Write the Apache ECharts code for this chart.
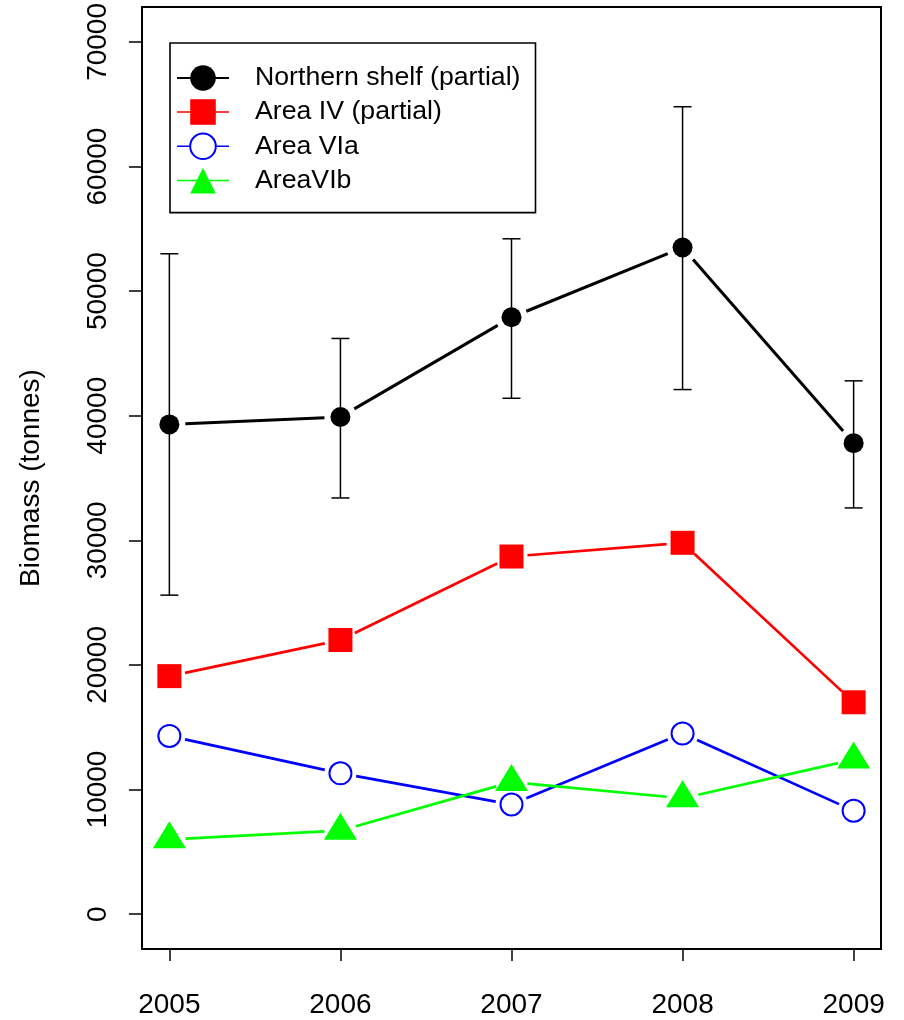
<!DOCTYPE html>
<html>
<head>
<meta charset="utf-8">
<script src="https://cdn.jsdelivr.net/npm/echarts@6/dist/echarts.min.js"></script>
<style>
  html, body { margin: 0; padding: 0; background: #fff; }
  #chart { width: 904px; height: 1020px; }
</style>
</head>
<body>
<div id="chart"></div>
<script>
const years = [2005, 2006, 2007, 2008, 2009];
const yTicks = [0, 10000, 20000, 30000, 40000, 50000, 60000, 70000];

const northern = [39300, 39900, 47900, 53500, 37800];
const northernLow = [25600, 33400, 41400, 42100, 32600];
const northernHigh = [53000, 46200, 54200, 64800, 42800];
const areaIV = [19100, 22000, 28700, 29800, 17000];
const areaVIa = [14300, 11300, 8800, 14500, 8300];
const areaVIb = [6000, 6700, 10600, 9300, 12400];

const names = ["Northern shelf (partial)", "Area IV (partial)", "Area VIa", "AreaVIb"];

const FONT = '"Liberation Sans", Arial, sans-serif';
const GAP = 16; // R type="b" leaves a gap round each point

// line pieces between neighbouring points, cut short near the markers
function segments(vals) {
  return years.slice(1).map((y, i) => [years[i], vals[i], y, vals[i + 1]]);
}

function segmentSeries(vals, color, width) {
  return {
    type: "custom",
    silent: true,
    data: segments(vals),
    encode: { x: [0, 2], y: [1, 3] },
    renderItem: (params, api) => {
      const a = api.coord([api.value(0), api.value(1)]);
      const b = api.coord([api.value(2), api.value(3)]);
      const dx = b[0] - a[0], dy = b[1] - a[1];
      const len = Math.hypot(dx, dy);
      const ux = dx / len, uy = dy / len;
      return {
        type: "line",
        shape: { x1: a[0] + ux * GAP, y1: a[1] + uy * GAP, x2: b[0] - ux * GAP, y2: b[1] - uy * GAP },
        style: { stroke: color, lineWidth: width }
      };
    }
  };
}

function markerSeries(name, vals, color, symbol, size, extra) {
  return Object.assign({
    name: name,
    type: "line",
    silent: true,
    data: years.map((y, i) => [y, vals[i]]),
    symbol: symbol,
    symbolSize: size,
    showAllSymbol: true,
    lineStyle: { color: color, opacity: 0 },
    itemStyle: { color: color, opacity: 1 },
    z: 5
  }, extra || {});
}

const errorData = years.map((y, i) => [y, northernLow[i], northernHigh[i]]);

const chart = echarts.init(document.getElementById("chart"));
chart.setOption({
  animation: false,
  textStyle: { fontFamily: FONT },
  grid: {
    left: 142, right: 23, top: 7, bottom: 71,
    show: true, borderColor: "#000", borderWidth: 2, backgroundColor: "transparent"
  },
  legend: {
    orient: "vertical",
    left: 170, top: 43,
    padding: [21.5, 15, 18.5, 6],
    itemWidth: 52, itemHeight: 32, itemGap: 7,
    borderColor: "#000", borderWidth: 1.6,
    selectedMode: false,
    textStyle: { fontSize: 26.7, color: "#000", fontFamily: FONT, padding: [0, 0, 0, 21] },
    data: [
      { name: names[0], lineStyle: { opacity: 1, width: 2, color: "#000" } },
      { name: names[1], lineStyle: { opacity: 1, width: 1.5, color: "#ff0000" } },
      { name: names[2], lineStyle: { opacity: 1, width: 1.5, color: "#0000ff" } },
      { name: names[3], lineStyle: { opacity: 1, width: 1.5, color: "#00ff00" } }
    ]
  },
  xAxis: {
    type: "value",
    min: 2004.84, max: 2009.16,
    splitLine: { show: false },
    axisLine: { show: false, onZero: false },
    axisTick: { show: true, customValues: years, length: 12, lineStyle: { color: "#000", width: 1.5 } },
    axisLabel: {
      customValues: years, margin: 42, fontSize: 28, color: "#000", fontFamily: FONT,
      formatter: v => String(v)
    }
  },
  yAxis: {
    type: "value",
    min: -2800, max: 72800,
    name: "Biomass (tonnes)",
    nameLocation: "middle",
    nameRotate: 90,
    nameGap: 97,
    nameTextStyle: { fontSize: 28, color: "#000", fontFamily: FONT },
    splitLine: { show: false },
    axisLine: { show: false, onZero: false },
    axisTick: { show: true, customValues: yTicks, length: 13, lineStyle: { color: "#000", width: 1.5 } },
    axisLabel: {
      customValues: yTicks, rotate: 90, margin: 30, fontSize: 28, color: "#000", fontFamily: FONT,
      formatter: v => String(v)
    }
  },
  series: [
    markerSeries(names[0], northern, "#000000", "circle", 20),
    markerSeries(names[1], areaIV, "#ff0000", "rect", 24),
    markerSeries(names[2], areaVIa, "#0000ff", "emptyCircle", 22,
      { itemStyle: { color: "#0000ff", borderColor: "#0000ff", borderWidth: 2.8, opacity: 1 } }),
    markerSeries(names[3], areaVIb, "#00ff00", "triangle", [33, 27], { symbolOffset: [0, -4.5] }),
    segmentSeries(northern, "#000000", 3),
    segmentSeries(areaIV, "#ff0000", 2.7),
    segmentSeries(areaVIa, "#0000ff", 2.7),
    segmentSeries(areaVIb, "#00ff00", 2.7),
    {
      type: "custom",
      silent: true,
      data: errorData,
      encode: { x: 0, y: [1, 2] },
      z: 1,
      renderItem: (params, api) => {
        const lo = api.coord([api.value(0), api.value(1)]);
        const hi = api.coord([api.value(0), api.value(2)]);
        const cap = 9;
        const style = { stroke: "#000", lineWidth: 1.5 };
        return {
          type: "group",
          children: [
            { type: "line", shape: { x1: hi[0], y1: hi[1], x2: lo[0], y2: lo[1] }, style: style },
            { type: "line", shape: { x1: hi[0] - cap, y1: hi[1], x2: hi[0] + cap, y2: hi[1] }, style: style },
            { type: "line", shape: { x1: lo[0] - cap, y1: lo[1], x2: lo[0] + cap, y2: lo[1] }, style: style }
          ]
        };
      }
    }
  ]
});
</script>
</body>
</html>
